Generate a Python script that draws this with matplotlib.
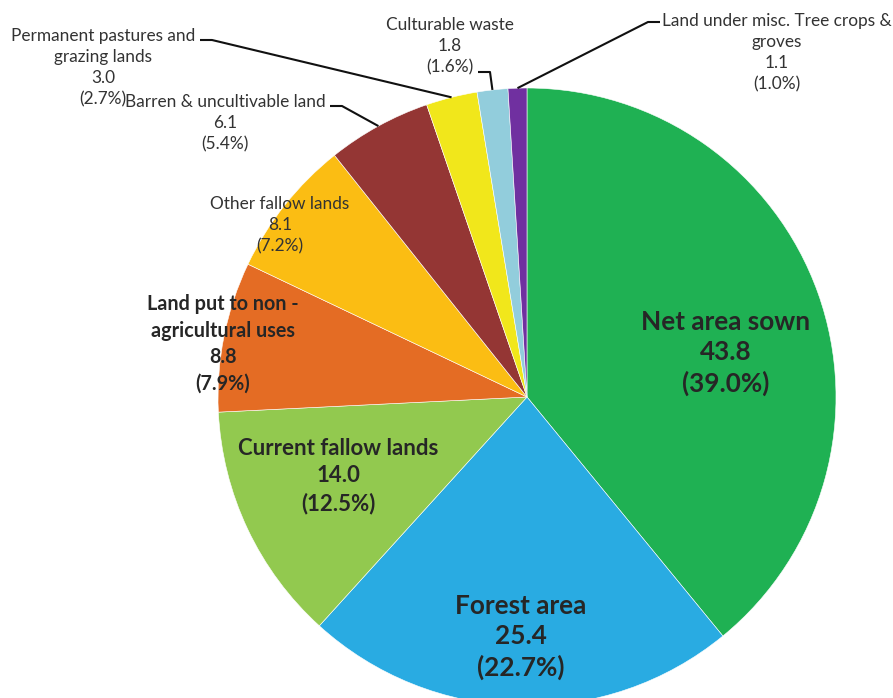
import numpy as np
import matplotlib.pyplot as plt

# data
categories = [
    "Net area sown", "Forest area", "Current fallow lands",
    "Land put to non -\nagricultural uses", "Other fallow lands",
    "Barren & uncultivable land", "Permanent pastures and\ngrazing lands",
    "Culturable waste", "Land under misc. Tree crops &\ngroves",
]
values = [43.8, 25.4, 14.0, 8.8, 8.1, 6.1, 3.0, 1.8, 1.1]
pct_labels = ["39.0%", "22.7%", "12.5%", "7.9%", "7.2%", "5.4%", "2.7%", "1.6%", "1.0%"]
colors = ["#1FB153", "#29ABE2", "#92C94F", "#E46C24", "#FBBD13",
          "#943634", "#F1E71B", "#92CDDC", "#7030A0"]

W, H = 893, 698
FONT = "Lato"
TXT = "#262626"


def px(x, y):
    """pixel position (from top-left) -> data coords"""
    return x, H - y


fig = plt.figure(figsize=(W / 100, H / 100), dpi=100)
ax = fig.add_axes([0, 0, 1, 1])

cx, cy = px(527, 397)
R = 309
wedges, _ = ax.pie(values, colors=colors, startangle=90, counterclock=False,
                   center=(cx, cy), radius=R,
                   wedgeprops=dict(edgecolor="white", linewidth=0.4))
ax.set_xlim(0, W)
ax.set_ylim(0, H)
ax.set_aspect("equal")
ax.axis("off")

# (text centre in px, fontsize, bold, linespacing, leader start/elbow in px or None)
label_style = [
    ((726, 353), 18.8, True, 1.32, None),
    ((521, 637), 18.8, True, 1.32, None),
    ((338, 476), 16.0, True, 1.38, None),
    ((223, 344), 14.2, True, 1.40, None),
    ((280, 225), 12.4, False, 1.39, None),
    ((225, 123), 12.4, False, 1.39, [(330, 106), (342, 106)]),
    ((103, 68), 12.4, False, 1.39, [(200, 40), (212, 40)]),
    ((450, 46), 12.4, False, 1.39, [(478, 72), (490, 72)]),
    ((777, 53), 12.4, False, 1.39, [(660, 22), (648, 22)]),
]

for w, cat, val, pct, (pos, fs, bold, ls, leader) in zip(
        wedges, categories, values, pct_labels, label_style):
    ax.text(*px(*pos), f"{cat}\n{val:.1f}\n({pct})", ha="center", va="center",
            multialignment="center", fontsize=fs, family=FONT,
            fontweight="bold" if bold else "normal",
            color=TXT if bold else "#333333", linespacing=ls)
    if leader:
        # leader goes from the label to the rim at the middle of its wedge
        mid = np.deg2rad((w.theta1 + w.theta2) / 2)
        end = (cx + R * np.cos(mid), cy + R * np.sin(mid))
        pts = [px(*p) for p in leader] + [end]
        ax.plot([p[0] for p in pts], [p[1] for p in pts], color="#111111",
                lw=1.5, solid_capstyle="butt")

fig.savefig("out.png", dpi=100)
